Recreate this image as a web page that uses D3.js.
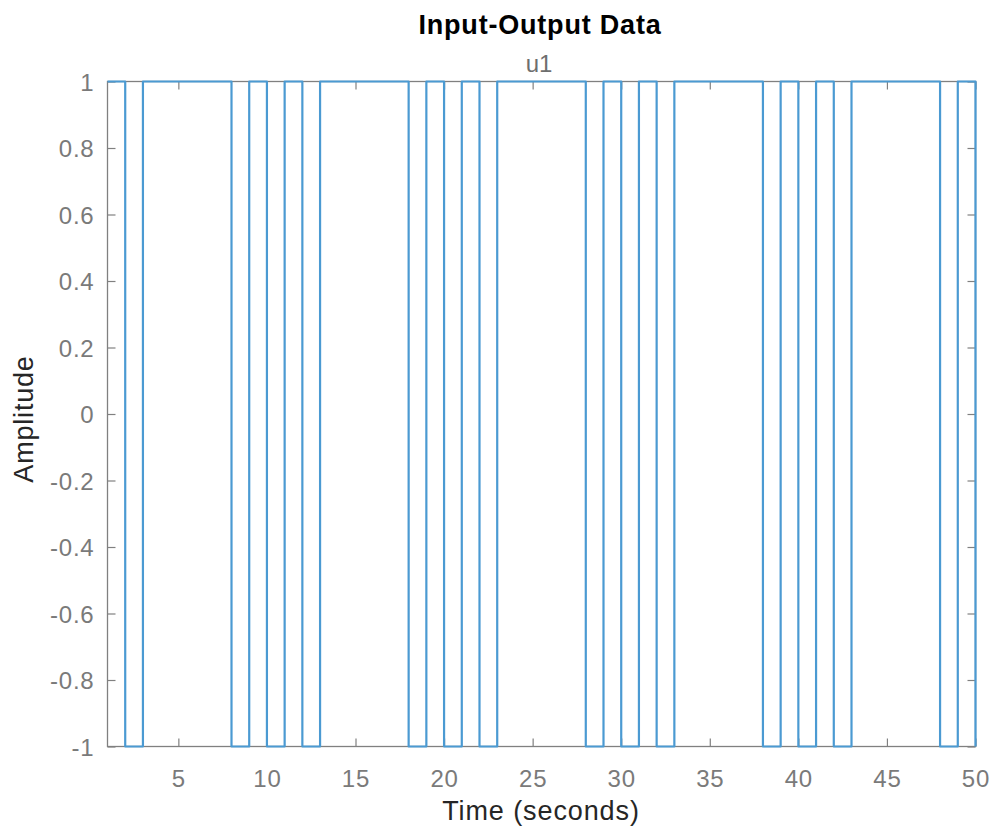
<!DOCTYPE html>
<html>
<head>
<meta charset="utf-8">
<script src="https://cdn.jsdelivr.net/npm/d3@7"></script>
<style>
  html, body { margin: 0; padding: 0; background: #fff; }
  svg { display: block; font-family: "Liberation Sans", Arial, Helvetica, sans-serif; }
</style>
</head>
<body>
<svg id="chart" width="991" height="827"></svg>
<script>
// ---- data ----
const time = [1,2,3,4,5,6,7,8,9,10,11,12,13,14,15,16,17,18,19,20,21,22,23,24,25,26,27,28,29,30,31,32,33,34,35,36,37,38,39,40,41,42,43,44,45,46,47,48,49,50];
const u1   = [1,-1,1,1,1,1,1,-1,1,-1,1,-1,1,1,1,1,1,-1,1,-1,1,-1,1,1,1,1,1,-1,1,-1,1,-1,1,1,1,1,1,-1,1,-1,1,-1,1,1,1,1,1,-1,1,-1];
const xTicks = [5,10,15,20,25,30,35,40,45,50];
const yTicks = [-1,-0.8,-0.6,-0.4,-0.2,0,0.2,0.4,0.6,0.8,1];
const yTickLabels = ["-1","-0.8","-0.6","-0.4","-0.2","0","0.2","0.4","0.6","0.8","1"];
const titleText = "Input-Output Data";
const channelText = "u1";
const xLabelText = "Time (seconds)";
const yLabelText = "Amplitude";

// ---- layout ----
const L = 107.5, R = 975.5, T = 81.5, B = 746.5;
const svg = d3.select("#chart");
const x = d3.scaleLinear().domain([1, 50]).range([L, R]);
const y = d3.scaleLinear().domain([-1, 1]).range([B, T]);
const axisColor = "#808080";
const tickLen = 8;

function styleAxis(g) {
  g.select(".domain").remove();
  g.selectAll(".tick line").attr("stroke", axisColor).attr("stroke-width", 1.2);
  g.selectAll(".tick text").attr("fill", "#7a7a7a").attr("font-size", 24).attr("font-family", "Liberation Sans, Arial, sans-serif");
}

// bottom axis (ticks inward)
const gB = svg.append("g").attr("transform", `translate(0,${B})`)
  .call(d3.axisBottom(x).tickValues(xTicks).tickSizeInner(-tickLen).tickSizeOuter(0).tickPadding(0).tickFormat(d => String(d)));
styleAxis(gB);
gB.selectAll(".tick text").attr("y", 40).attr("dy", 0).attr("letter-spacing", 0.8);

// top axis (ticks only)
const gT = svg.append("g").attr("transform", `translate(0,${T})`)
  .call(d3.axisTop(x).tickValues(xTicks).tickSizeInner(-tickLen).tickSizeOuter(0).tickFormat(""));
styleAxis(gT);

// left axis
const gL = svg.append("g").attr("transform", `translate(${L},0)`)
  .call(d3.axisLeft(y).tickValues(yTicks).tickSizeInner(-tickLen).tickSizeOuter(0).tickPadding(0)
    .tickFormat((d, i) => yTickLabels[i]));
styleAxis(gL);
gL.selectAll(".tick text").attr("x", -13).attr("dy", "0.36em").attr("letter-spacing", 0.8);

// right axis (ticks only)
const gR = svg.append("g").attr("transform", `translate(${R},0)`)
  .call(d3.axisRight(y).tickValues(yTicks).tickSizeInner(-tickLen).tickSizeOuter(0).tickFormat(""));
styleAxis(gR);

// box
svg.append("rect").attr("x", L).attr("y", T).attr("width", R - L).attr("height", B - T)
  .attr("fill", "none").attr("stroke", axisColor).attr("stroke-width", 1.3);

// signal (stairs)
const line = d3.line().x((d, i) => x(time[i])).y(d => y(d)).curve(d3.curveStepAfter);
svg.append("path").datum(u1)
  .attr("d", line)
  .attr("fill", "none")
  .attr("stroke", "#4b9ad2")
  .attr("stroke-width", 2.2)
  .attr("stroke-linejoin", "round");

// texts
svg.append("text").attr("x", 540).attr("y", 34).attr("text-anchor", "middle")
  .attr("font-size", 27).attr("font-weight", "bold").attr("fill", "#000").attr("letter-spacing", 0.8).text(titleText);
svg.append("text").attr("x", 539).attr("y", 72).attr("text-anchor", "middle")
  .attr("font-size", 24).attr("fill", "#6e6e6e").text(channelText);
svg.append("text").attr("x", 541).attr("y", 820).attr("text-anchor", "middle")
  .attr("font-size", 27).attr("fill", "#262626").attr("letter-spacing", 0.9).text(xLabelText);
svg.append("text").attr("transform", `translate(33,${(T + B) / 2 + 5}) rotate(-90)`).attr("text-anchor", "middle")
  .attr("font-size", 27).attr("fill", "#262626").attr("letter-spacing", 0.8).text(yLabelText);
</script>
</body>
</html>
